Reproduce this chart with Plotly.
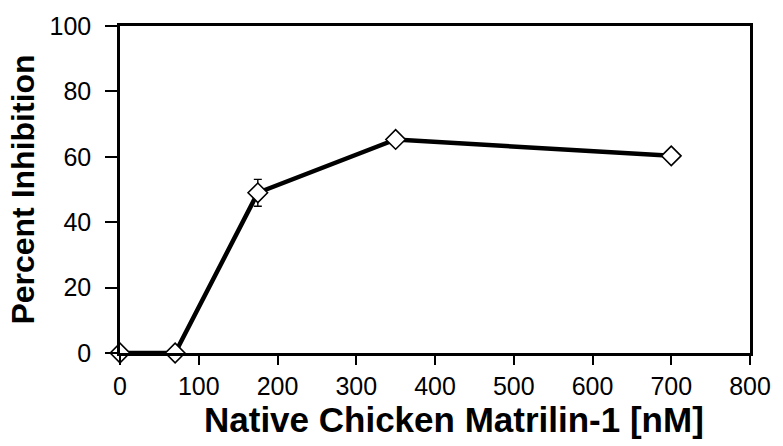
import plotly.graph_objects as go

# Inhibition by native chicken matrilin-1
concentration_nm = [0, 70, 175, 350, 700]
percent_inhibition = [0, 0, 49, 65.3, 60.3]
inhibition_error = [0, 0, 4.1, 0, 0]

x_ticks = [0, 100, 200, 300, 400, 500, 600, 700, 800]
y_ticks = [0, 20, 40, 60, 80, 100]

fig = go.Figure()
fig.add_trace(go.Scatter(
    x=concentration_nm,
    y=percent_inhibition,
    mode="lines+markers",
    line=dict(color="black", width=4.5),
    marker=dict(symbol="diamond", size=15, color="white",
                line=dict(color="black", width=1.6)),
    error_y=dict(type="data", array=inhibition_error, visible=True,
                 color="black", thickness=1.4, width=4),
    cliponaxis=False,
    showlegend=False,
))

family = "Liberation Sans, Arial, sans-serif"
tick_font = dict(family=family, size=25, color="black")

# x-axis title placed as a paper annotation, slightly right of the plot centre
fig.add_annotation(
    text="<b>Native Chicken Matrilin-1 [nM]</b>",
    xref="paper", yref="paper", x=0.53, y=-0.203,
    xanchor="center", yanchor="middle", showarrow=False,
    font=dict(family=family, size=35, color="black"),
)

fig.update_layout(
    width=783, height=446,
    margin=dict(l=120, r=22, t=23, b=93),
    paper_bgcolor="white", plot_bgcolor="white",
    xaxis=dict(
        range=[0, 800], tickvals=x_ticks, ticktext=[str(v) for v in x_ticks],
        showgrid=False, zeroline=False,
        showline=True, linecolor="black", linewidth=2.5, mirror=True,
        ticks="outside", ticklen=9, tickwidth=2, tickcolor="black",
        tickfont=tick_font,
    ),
    yaxis=dict(
        range=[0, 100], tickvals=y_ticks, ticktext=[str(v) for v in y_ticks],
        showgrid=False, zeroline=False,
        showline=True, linecolor="black", linewidth=2.5, mirror=True,
        ticks="outside", ticklen=12, tickwidth=2, tickcolor="black",
        ticklabelstandoff=9,
        tickfont=tick_font,
        title=dict(text="<b>Percent Inhibition</b>",
                   font=dict(family=family, size=32, color="black"), standoff=6),
    ),
)

fig.write_html("out.html")
